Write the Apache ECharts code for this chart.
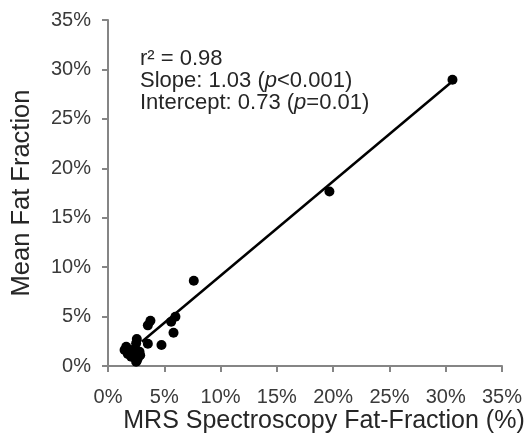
<!DOCTYPE html>
<html>
<head>
<meta charset="utf-8">
<script src="https://cdn.jsdelivr.net/npm/echarts@6/dist/echarts.min.js"></script>
<style>html,body{margin:0;padding:0;background:#fff}#c{width:530px;height:441px}</style>
</head>
<body>
<div id="c"></div>
<script>
// MRS spectroscopy fat fraction (%) vs mean fat fraction (%)
const mrsValues  = [30.6, 19.67, 7.62, 3.77, 3.54, 5.99, 5.61, 5.82, 4.75, 3.54, 2.56, 2.5, 1.62, 1.47, 1.76, 2.06, 2.35, 2.65, 2.5, 2.8, 2.35, 2.86, 2.56, 2.1];
const meanValues = [28.96, 17.65, 8.62, 4.58, 4.11, 4.98, 4.48, 3.37, 2.12, 2.25, 2.73, 2.29, 1.95, 1.62, 1.21, 0.94, 1.28, 0.78, 0.43, 1.44, 1.69, 1.08, 0.54, 1.6];
// fitted line end points
const fitX = [3.0, 30.6];
const fitY = [2.45, 28.8];
const tickValues = [0, 5, 10, 15, 20, 25, 30, 35];
const xTitle = 'MRS Spectroscopy Fat-Fraction (%)';
const yTitle = 'Mean Fat Fraction';
const statLines = [
  ['r² = 0.98'],
  ['Slope: 1.03 (', 'p', '<0.001)'],
  ['Intercept: 0.73 (', 'p', '=0.01)']
];

const points = mrsValues.map((x, i) => [x, meanValues[i]]);
const fitData = fitX.map((x, i) => [x, fitY[i]]);

const font = 'Liberation Sans, Arial, sans-serif';
const axisCommon = {
  type: 'value',
  min: tickValues[0],
  max: tickValues[tickValues.length - 1],
  interval: 5,
  splitLine: { show: false },
  axisLine: { show: true, lineStyle: { color: '#858585', width: 2 } },
  axisTick: { show: true, length: 6, lineStyle: { color: '#858585', width: 2 } },
  axisLabel: { color: '#3a3a3a', fontSize: 20, fontFamily: font, formatter: v => v + '%' },
  nameLocation: 'middle',
  nameTextStyle: { color: '#262626', fontSize: 25.5, fontFamily: font }
};

const graphics = statLines.map((parts, i) => {
  let txt = '';
  parts.forEach((p, j) => { txt += (j === 1 ? '{i|' : '{n|') + p + '}'; });
  return {
    type: 'text',
    left: 140,
    top: 48 + i * 22,
    style: {
      text: txt,
      rich: {
        n: { fontSize: 22, fontFamily: font, fill: '#262626' },
        i: { fontSize: 22, fontFamily: font, fontStyle: 'italic', fill: '#262626' }
      }
    }
  };
});
graphics.push({
  type: 'text',
  x: 324,
  y: 421.5,
  style: {
    text: xTitle,
    fontSize: 25,
    fontFamily: font,
    fill: '#262626',
    align: 'center',
    verticalAlign: 'middle'
  }
});

const chart = echarts.init(document.getElementById('c'));
chart.setOption({
  animation: false,
  backgroundColor: '#fff',
  grid: { left: 108, right: 28, top: 20, bottom: 75, containLabel: false },
  xAxis: Object.assign({}, axisCommon, {
    axisLabel: Object.assign({}, axisCommon.axisLabel, { margin: 21 })
  }),
  yAxis: Object.assign({}, axisCommon, {
    name: yTitle, nameGap: 73,
    axisLabel: Object.assign({}, axisCommon.axisLabel, { margin: 17 })
  }),
  graphic: graphics,
  series: [
    {
      type: 'line',
      data: fitData,
      showSymbol: false,
      lineStyle: { color: '#000', width: 2.5 },
      z: 2
    },
    {
      type: 'scatter',
      data: points,
      symbol: 'circle',
      symbolSize: 10,
      itemStyle: { color: '#000', opacity: 1 },
      z: 3
    }
  ]
});
</script>
</body>
</html>
